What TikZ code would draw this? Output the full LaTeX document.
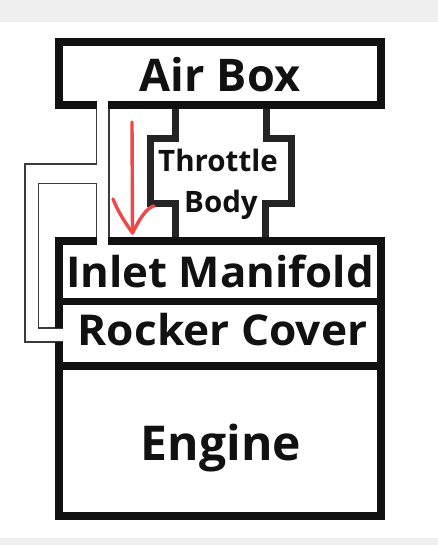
\documentclass[tikz,border=0pt]{standalone}
\usepackage{fontspec}
\setmainfont{Open Sans}
\definecolor{bgband}{HTML}{F0F0F0}
\definecolor{ink}{HTML}{111111}
\definecolor{tb}{HTML}{242424}
\definecolor{pipe}{HTML}{3A3A3A}
\definecolor{redarrow}{HTML}{EE4848}
\tikzset{
  frame/.style={draw=ink, line width=8pt, line join=miter, line cap=butt},
  divider/.style={draw=ink, line width=7.5pt},
  tbody/.style={draw=tb, line width=7pt, line join=miter, line cap=butt},
  pipeline/.style={draw=pipe, line width=1.6pt, line join=miter},
  lbl/.style={anchor=base, inner sep=0pt, text=ink, font=\bfseries},
  flow/.style={draw=redarrow, line width=3.4pt, line cap=round, line join=round}
}
\begin{document}
\begin{tikzpicture}[x=1pt, y=-1pt]
\useasboundingbox (0,0) rectangle (438,545);
\fill[white] (0,0) rectangle (438,545);
\fill[bgband] (0,0) rectangle (438,22);
\fill[bgband] (0,538) rectangle (438,545);

% breather pipe (thin double lines)
\coordinate (p1) at (96.5,105);
\coordinate (p2) at (96.5,164);
\coordinate (p3) at (25,164);
\coordinate (p4) at (25,342);
\coordinate (p5) at (63,342);
\draw[pipeline] (p1) -- (p2) -- (p3) -- (p4) -- (p5);
\coordinate (q1) at (96.5,241);
\coordinate (q2) at (96.5,183.5);
\coordinate (q3) at (38.5,183.5);
\coordinate (q4) at (38.5,328);
\coordinate (q5) at (63,328);
\draw[pipeline] (q1) -- (q2) -- (q3) -- (q4) -- (q5);
\coordinate (r1) at (108.7,105);
\coordinate (r2) at (108.7,241);
\draw[pipeline] (r1) -- (r2);

% throttle body
\draw[tbody] (175.5,105) -- (175.5,139) -- (150.5,139) -- (150.5,203.5) -- (175.5,203.5) -- (175.5,241);
\draw[tbody] (266,105) -- (266,139) -- (291.5,139) -- (291.5,203.5) -- (265.5,203.5) -- (265.5,241);

% air box
\draw[frame] (97,105) -- (59,105) -- (59,42) -- (381,42) -- (381,105) -- (108,105);

% lower stack
\draw[frame] (97,241) -- (59,241) -- (59,328);
\draw[frame] (59,342) -- (59,515.5) -- (381,515.5) -- (381,241) -- (108,241);
\draw[divider] (55,301.5) -- (385,301.5);
\draw[divider] (55,366) -- (385,366);

% red flow arrow
\coordinate (a0) at (132,122);
\coordinate (a1) at (132.5,233);
\draw[flow] (a0) -- (a1);
\draw[flow] (113,199) .. controls (119,214) and (127,225) .. (a1) .. controls (139,220) and (146,208) .. (154,206);

% labels
\node[lbl, font=\bfseries\fontsize{45}{54}\selectfont] (airbox) at (220,92) {Air Box};
\node[lbl, font=\bfseries\fontsize{29.5}{35}\selectfont] (throttle) at (218,172) {Throttle};
\node[lbl, font=\bfseries\fontsize{29.5}{35}\selectfont] (body) at (221,212) {Body};
\node[lbl, font=\bfseries\fontsize{42.5}{50}\selectfont] (inlet) at (220,287) {\scalebox{1.03}[1]{Inlet Manifold}};
\node[lbl, font=\bfseries\fontsize{42.5}{50}\selectfont] (rocker) at (222.5,345) {\scalebox{1.04}[1]{Rocker Cover}};
\node[lbl, font=\bfseries\fontsize{48}{58}\selectfont] (engine) at (221,460) {Engine};
\end{tikzpicture}
\end{document}
